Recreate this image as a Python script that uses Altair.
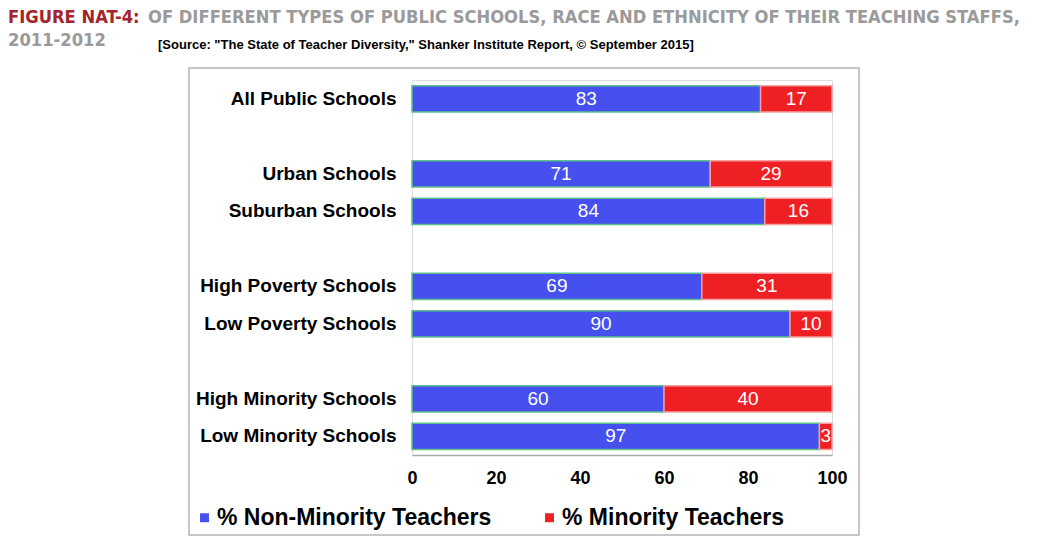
import altair as alt
import pandas as pd

categories = ["All Public Schools", "Urban Schools", "Suburban Schools",
              "High Poverty Schools", "Low Poverty Schools",
              "High Minority Schools", "Low Minority Schools"]
non_minority = [83, 71, 84, 69, 90, 60, 97]
minority = [17, 29, 16, 31, 10, 40, 3]
series = ["% Non-Minority Teachers", "% Minority Teachers"]
y_domain = ["All Public Schools", " ", "Urban Schools", "Suburban Schools", "  ",
            "High Poverty Schools", "Low Poverty Schools", "   ",
            "High Minority Schools", "Low Minority Schools"]
x_ticks = [0, 20, 40, 60, 80, 100]

rows = []
for c, a, b in zip(categories, non_minority, minority):
    rows.append({"category": c, "series": series[0], "value": a, "k": 0})
    rows.append({"category": c, "series": series[1], "value": b, "k": 1})
df = pd.DataFrame(rows)

FONT = "Liberation Sans"
y_enc = alt.Y("category:N", scale=alt.Scale(domain=y_domain, paddingInner=0.3, paddingOuter=0.15),
              axis=alt.Axis(title=None, domain=False, ticks=False, labelPadding=16,
                            labelFontSize=19, labelFontWeight="bold", labelFont=FONT,
                            labelColor="black", labelLimit=400))

base = alt.Chart(df)

bars = base.mark_bar(strokeWidth=1.5).encode(
    x=alt.X("value:Q", stack="zero", scale=alt.Scale(domain=[0, 100], nice=False),
            axis=alt.Axis(title=None, values=x_ticks, grid=False, ticks=False,
                          domainColor="#aaaaaa", domainWidth=1.5, labelPadding=14,
                          labelFontSize=18, labelFontWeight="bold", labelFont=FONT,
                          labelColor="black", labelFlush=False)),
    y=y_enc,
    color=alt.Color("series:N", scale=alt.Scale(domain=series, range=["#4650ee", "#ee2024"]),
                    legend=alt.Legend(title=None, orient="none", direction="horizontal",
                                      legendX=-219, legendY=426, symbolType="square",
                                      symbolSize=80, symbolStrokeWidth=0,
                                      labelFontSize=23, labelFontWeight="bold", labelFont=FONT,
                                      labelColor="black", columnPadding=46, labelOffset=1,
                                      labelLimit=500)),
    stroke=alt.Stroke("series:N", scale=alt.Scale(domain=series, range=["#5cc08e", "#f4a0a0"]),
                      legend=None),
    order=alt.Order("k:Q"),
)

labels = base.transform_stack(
    stack="value", groupby=["category"], as_=["v0", "v1"], sort=[alt.SortField("k")]
).transform_calculate(mid="(datum.v0 + datum.v1) / 2").mark_text(
    color="white", fontSize=19, font=FONT, baseline="middle", align="center"
).encode(
    x=alt.X("mid:Q"),
    y=alt.Y("category:N", scale=alt.Scale(domain=y_domain)),
    text=alt.Text("value:Q"),
)

one = alt.Data(values=[{"a": 1}])
frame = alt.Chart(one).mark_rect(fill=None, stroke="#b5b5b5", strokeWidth=1.5).encode(
    x=alt.value(-223), x2=alt.value(447), y=alt.value(-12), y2=alt.value(455))

TFONT = "DejaVu Sans Condensed"
TSIZE = 18.2
t1 = alt.Chart(one).mark_text(text="FIGURE NAT-4:", font=TFONT, fontSize=TSIZE, fontWeight="bold",
                              color="#a3242b", align="left", baseline="middle").encode(
    x=alt.value(-404), y=alt.value(-62))
t2 = alt.Chart(one).mark_text(
    text="OF DIFFERENT TYPES OF PUBLIC SCHOOLS, RACE AND ETHNICITY OF THEIR TEACHING STAFFS,",
    font=TFONT, fontSize=TSIZE, fontWeight="bold", color="#9a9a9a", align="left",
    baseline="middle").encode(x=alt.value(-264), y=alt.value(-62))
t3 = alt.Chart(one).mark_text(text="2011-2012", font=TFONT, fontSize=TSIZE, fontWeight="bold",
                              color="#9a9a9a", align="left", baseline="middle").encode(
    x=alt.value(-404), y=alt.value(-39))
t4 = alt.Chart(one).mark_text(
    text='[Source: "The State of Teacher Diversity," Shanker Institute Report, \u00a9 September 2015]',
    font=FONT, fontSize=13, fontWeight="bold", color="black", align="left",
    baseline="middle").encode(x=alt.value(-254), y=alt.value(-35))

chart = alt.layer(frame, bars, labels, t1, t2, t3, t4).resolve_scale(
    y="shared", x="shared"
).properties(
    width=420, height=375,
    autosize=alt.AutoSizeParams(type="none"),
    padding={"left": 412, "top": 80, "right": 219, "bottom": 102},
).configure_view(stroke=None).configure(background="white")

chart.save("out.html", embed_options={"renderer": "svg", "actions": False})
